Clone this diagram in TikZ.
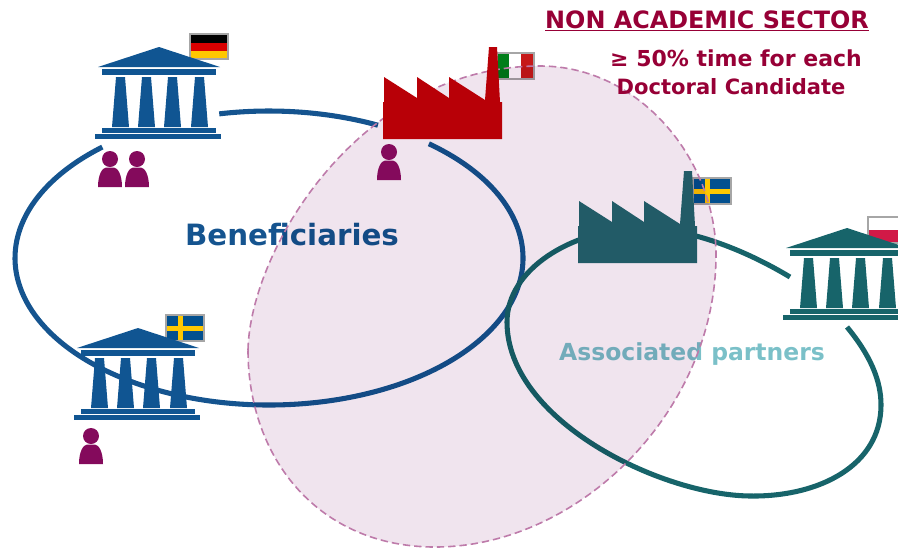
\documentclass[tikz,border=0pt]{standalone}
\usepackage{fontspec}
\setmainfont{DejaVu Sans}
\definecolor{templeblue}{HTML}{105592}
\definecolor{ringblue}{HTML}{15548F}
\definecolor{templeteal}{HTML}{17646A}
\definecolor{factoryteal}{HTML}{225B67}
\definecolor{factoryred}{HTML}{B80007}
\definecolor{personpurple}{HTML}{840A5C}
\definecolor{titlered}{HTML}{970036}
\definecolor{partnerteal}{HTML}{7AC0C8}
\definecolor{blobfill}{HTML}{F0E4EE}
\definecolor{blobline}{HTML}{BE7BAA}
\definecolor{flagblue}{HTML}{03508F}
\definecolor{flagyellow}{HTML}{FFC800}
\tikzset{
  every pic/.style={yscale=-1},
  ring/.style={line width=3.8pt},
  flagframe/.style={draw=black!35,line width=0.8pt},
  temple/.pic={
    \path[pic actions] (-61,20) -- (0,0) -- (61,20) -- cycle;
    \path[pic actions] (-57,22) rectangle (57,27.5);
    \foreach \colx in {-34,-8,18,45}{
      \path[pic actions] (\colx-9,30) -- (\colx,30) -- (\colx+4,80) -- (\colx-13,80) -- cycle;
    }
    \path[pic actions] (-57,81) rectangle (57,86);
    \path[pic actions] (-64,87) rectangle (62,92);
  },
  factory/.pic={
    \path[pic actions] (0,0) -- (0,-37) -- (1,-37) -- (1,-62) -- (34,-41) -- (34,-62) -- (66,-41) -- (66,-62) -- (102,-39) -- (106,-92) -- (114,-92) -- (117,-37) -- (119,-37) -- (119,0) -- cycle;
  },
  person/.pic={
    \fill[personpurple] (0,0) circle (8);
    \fill[personpurple] (-12,28) .. controls (-12,16) and (-8,9) .. (-4,8.5) -- (4,8.5) .. controls (8,9) and (12,16) .. (12,28) -- cycle;
  },
  swedenflag/.pic={
    \fill[flagblue] (0,0) rectangle (38,26);
    \fill[flagyellow] (12,0) rectangle (17,26);
    \fill[flagyellow] (0,10.5) rectangle (38,15.5);
    \draw[flagframe] (0,0) rectangle (38,26);
  },
  headline/.style={font=\bfseries\fontsize{16.5}{20}\selectfont,text=titlered,inner sep=0pt},
  ringlabel/.style={font=\bfseries\fontsize{22}{26}\selectfont,inner sep=0pt},
}

\begin{document}
\begin{tikzpicture}[x=0.75pt,y=0.75pt,yscale=-1,xscale=1]
\useasboundingbox (0,0) rectangle (898,547);
\clip (0,0) rectangle (898,547);

%Shape: rings
\coordinate (ringcentre) at (269,258);
\draw[ring,ringblue] (ringcentre) ++(-51:254 and 147) arc[start angle=-51,end angle=229,x radius=254,y radius=147];
\draw[ring,ringblue] (ringcentre) ++(-101.3:254 and 147) arc[start angle=-101.3,end angle=-64.6,x radius=254,y radius=147];
\draw[ring,templeteal] (847,327) .. controls (870,355) and (881,380) .. (881,405) .. controls (881,465) and (820,497) .. (750,496) .. controls (660,495) and (507,420) .. (507,322) .. controls (507,270) and (570,230) .. (640,228) .. controls (690,228) and (745,250) .. (790,277);

%Shape: flags
\fill[black] (190,34) rectangle (228,42.5);
\fill[red!85!black] (190,42.5) rectangle (228,51);
\fill[flagyellow] (190,51) rectangle (228,59);
\draw[flagframe] (190,34) rectangle (228,59);
\pic at (166,315) {swedenflag};
\pic at (693,178) {swedenflag};
\fill[green!55!black!90!blue] (497,53) rectangle (509,79);
\fill[red!75!black!90!white] (521,53) rectangle (534,79);
\draw[flagframe] (497,53) rectangle (534,79);
\fill[red!80!blue!90!white] (868,230) rectangle (906,243);
\draw[flagframe] (868,217) rectangle (906,243);

% Text Node
\node[ringlabel,text=ringblue] (beneficiaries) at (292,235) {Beneficiaries};
\node[ringlabel,text=partnerteal,font=\bfseries\fontsize{17.6}{21}\selectfont] (associated) at (692,354) {Associated partners};

%Shape: blob
\fill[blobfill,blend mode=multiply] (248,350) .. controls (250,250) and (360,66) .. (540,66) .. controls (640,66) and (716,160) .. (716,255) .. controls (716,410) and (580,547) .. (435,547) .. controls (320,547) and (248,460) .. (248,350) -- cycle;
\draw[blobline,line width=1.2pt,dash pattern=on 5.5pt off 3pt] (248,350) .. controls (250,250) and (360,66) .. (540,66) .. controls (640,66) and (716,160) .. (716,255) .. controls (716,410) and (580,547) .. (435,547) .. controls (320,547) and (248,460) .. (248,350) -- cycle;

%Shape: temples and factories
\pic[fill=templeblue] at (159,47) {temple};
\pic[fill=templeblue] at (138,328) {temple};
\pic[fill=templeteal] at (847,228) {temple};
\pic[fill=factoryred] at (383,139) {factory};
\pic[fill=factoryteal] at (578,263) {factory};

%Shape: people
\pic at (110,159) {person};
\pic at (137,159) {person};
\pic at (389,152) {person};
\pic at (91,436) {person};

% Text Node
\node[headline,font=\bfseries\fontsize{17.9}{21}\selectfont] (sector) at (707,21) {\underline{NON ACADEMIC SECTOR}};
\node[headline] (share) at (736,58) {≥ 50\% time for each};
\node[headline,font=\bfseries\fontsize{15.8}{19}\selectfont] (candidate) at (731,87) {Doctoral Candidate};

\end{tikzpicture}
\end{document}
